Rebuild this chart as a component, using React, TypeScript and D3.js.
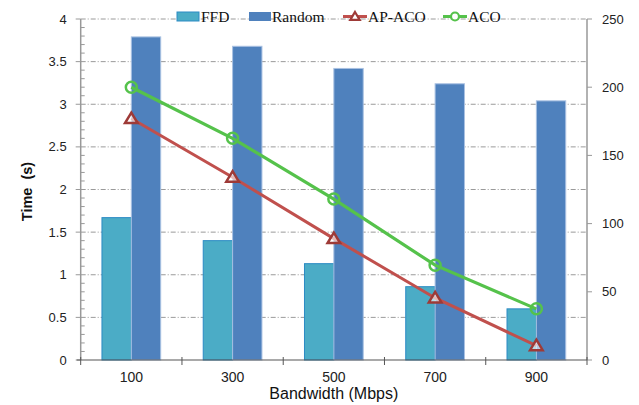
import React from "react";
import * as d3 from "d3";

// chart values
const categories = ["100", "300", "500", "700", "900"];
const ffd = [1.67, 1.4, 1.13, 0.86, 0.6];
const random = [3.79, 3.68, 3.42, 3.24, 3.04];
const apAco = [177, 134, 89, 45.5, 10.5];
const aco = [200, 162.5, 118, 69.5, 37.5];
const leftTicks = [0, 0.5, 1, 1.5, 2, 2.5, 3, 3.5, 4];
const rightTicks = [0, 50, 100, 150, 200, 250];

const width = 639;
const height = 405;
const margin = { top: 19, right: 52, bottom: 45, left: 80.7 };

const sans = "'Liberation Sans', Arial, sans-serif";
const serif = "'Liberation Serif', 'Times New Roman', serif";

export default function App() {
  const x0 = margin.left;
  const x1 = width - margin.right;
  const y0 = height - margin.bottom;
  const y1 = margin.top;

  const xScale = d3.scaleBand().domain(categories).range([x0, x1]).padding(0);
  const groupW = xScale.bandwidth() * 0.58;
  const inner = d3
    .scaleBand()
    .domain(["ffd", "random"])
    .range([-groupW / 2, groupW / 2]);

  const yLeft = d3.scaleLinear().domain([0, 4]).range([y0, y1]);
  const yRight = d3.scaleLinear().domain([0, 250]).range([y0, y1]);
  const minorTicks = d3.range(0, 4.0001, 0.1).filter((_, i) => i % 5 !== 0);

  const cx = (c: string) => (xScale(c) as number) + xScale.bandwidth() / 2;

  const line = d3
    .line<number>()
    .x((_, i) => cx(categories[i]))
    .y((d) => yRight(d));

  const tri = (x: number, y: number, s = 6) =>
    `M${x},${y - s}L${x + s * 1.05},${y + s * 0.75}L${x - s * 1.05},${y + s * 0.75}Z`;

  const acoColor = "#55C24B";
  const apColor = "#C0504D";
  const apMarker = "#9E3A37";

  return (
    <svg
      width={width}
      height={height}
      style={{ position: "absolute", left: 0, top: 0, background: "#fff" }}
    >
      {/* gridlines */}
      {leftTicks.slice(1).map((t) => (
        <line
          key={"g" + t}
          x1={x0}
          x2={x1}
          y1={yLeft(t)}
          y2={yLeft(t)}
          stroke="#9a9a9a"
          strokeWidth={1}
          strokeDasharray="5,2,1,2"
        />
      ))}

      {/* bars */}
      {categories.map((c, i) => (
        <g key={"b" + c}>
          <rect
            x={cx(c) + (inner("ffd") as number)}
            y={yLeft(ffd[i])}
            width={inner.bandwidth()}
            height={y0 - yLeft(ffd[i])}
            fill="#4BACC6"
            stroke="#2C8BC4"
            strokeWidth={1}
          />
          <rect
            x={cx(c) + (inner("random") as number)}
            y={yLeft(random[i])}
            width={inner.bandwidth()}
            height={y0 - yLeft(random[i])}
            fill="#4F81BD"
            stroke="#A9C1E2"
            strokeWidth={1}
          />
        </g>
      ))}

      {/* lines */}
      <path d={line(apAco) || ""} fill="none" stroke={apColor} strokeWidth={3} />
      <path d={line(aco) || ""} fill="none" stroke={acoColor} strokeWidth={3.2} />
      {apAco.map((v, i) => (
        <path
          key={"t" + i}
          d={tri(cx(categories[i]), yRight(v))}
          fill="#fff"
          fillOpacity={0.6}
          stroke={apMarker}
          strokeWidth={2.5}
        />
      ))}
      {aco.map((v, i) => (
        <circle
          key={"c" + i}
          cx={cx(categories[i])}
          cy={yRight(v)}
          r={5.5}
          fill="none"
          stroke={acoColor}
          strokeWidth={2.5}
        />
      ))}

      {/* left axis */}
      <line x1={x0} x2={x0} y1={y1} y2={y0} stroke="#999" strokeWidth={1.5} />
      {minorTicks.map((t) => (
        <line key={"m" + t} x1={x0} x2={x0 + 4} y1={yLeft(t)} y2={yLeft(t)} stroke="#999" />
      ))}
      {leftTicks.map((t) => (
        <g key={"l" + t}>
          <line x1={x0 - 5} x2={x0} y1={yLeft(t)} y2={yLeft(t)} stroke="#999" />
          <text
            x={x0 - 14}
            y={yLeft(t)}
            dy="0.35em"
            textAnchor="end"
            fontFamily={sans}
            fontSize={13}
            fill="#222"
          >
            {t}
          </text>
        </g>
      ))}

      {/* right axis */}
      <line x1={x1} x2={x1} y1={y1} y2={y0} stroke="#999" strokeWidth={1.5} />
      {rightTicks.map((t) => (
        <g key={"r" + t}>
          <line x1={x1} x2={x1 + 5} y1={yRight(t)} y2={yRight(t)} stroke="#999" />
          <text
            x={x1 + 15}
            y={yRight(t)}
            dy="0.35em"
            fontFamily={sans}
            fontSize={13}
            fill="#222"
          >
            {t}
          </text>
        </g>
      ))}

      {/* bottom axis */}
      <line x1={x0 - 4} x2={x1} y1={y0} y2={y0} stroke="#555" strokeWidth={1.2} />
      {categories.map((c) => (
        <line
          key={"xt" + c}
          x1={xScale(c) as number}
          x2={xScale(c) as number}
          y1={y0 - 3}
          y2={y0 + 5}
          stroke="#555"
        />
      ))}
      <line x1={x1} x2={x1} y1={y0 - 3} y2={y0 + 5} stroke="#555" />
      {categories.map((c) => (
        <text
          key={"xl" + c}
          x={cx(c)}
          y={y0 + 22}
          textAnchor="middle"
          fontFamily={sans}
          fontSize={14}
          fill="#222"
        >
          {c}
        </text>
      ))}

      {/* axis titles */}
      <text
        x={(x0 + x1) / 2}
        y={y0 + 38.5}
        textAnchor="middle"
        fontFamily={sans}
        fontSize={16}
        fill="#111"
      >
        Bandwidth (Mbps)
      </text>
      <text
        transform={`translate(32,${(y0 + y1) / 2 + 2}) rotate(-90)`}
        textAnchor="middle"
        fontFamily={sans}
        fontSize={14.5}
        fontWeight="bold"
        fill="#111"
        style={{ whiteSpace: "pre" }}
      >
        {"Time  (s)"}
      </text>

      {/* legend */}
      <g fontFamily={serif} fontSize={15.5} fill="#111">
        <rect x={177} y={12} width={22} height={9} fill="#4BACC6" stroke="#2C8BC4" />
        <text x={201} y={21.5}>FFD</text>
        <rect x={249} y={12} width={22} height={9} fill="#4F81BD" />
        <text x={272} y={21.5}>Random</text>
        <line x1={343} x2={367} y1={16.5} y2={16.5} stroke={apColor} strokeWidth={3} />
        <path d={tri(355, 16.5, 4.5)} fill="#fff" stroke={apMarker} strokeWidth={2.2} />
        <text x={368} y={21.5}>AP-ACO</text>
        <line x1={443} x2={467} y1={16.5} y2={16.5} stroke={acoColor} strokeWidth={3} />
        <circle cx={455} cy={16.5} r={4} fill="#fff" stroke={acoColor} strokeWidth={2.2} />
        <text x={468} y={21.5}>ACO</text>
      </g>
    </svg>
  );
}
